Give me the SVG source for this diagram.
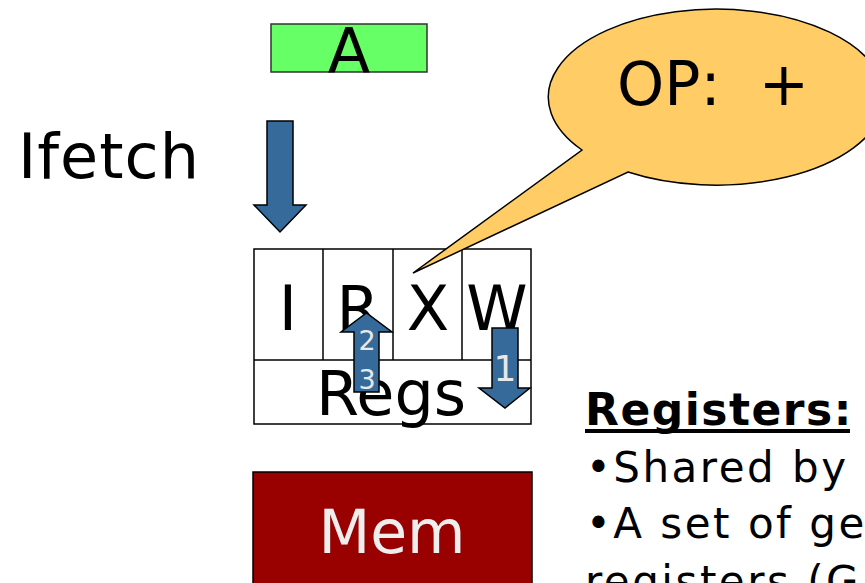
<svg xmlns="http://www.w3.org/2000/svg" width="865" height="583" viewBox="0 0 865 583">
  <style>
    text { font-family: "DejaVu Sans", Verdana, sans-serif; fill: #000; }
    .cell { fill: #fff; stroke: #000; stroke-width: 1.5; }
    .arrow { fill: #356a9a; stroke: #000; stroke-width: 1.5; }
    .num { fill: #e8e8e8; text-anchor: middle; }
    .big { font-size: 62px; text-anchor: middle; }
    .note { font-size: 42px; letter-spacing: 2.5px; }
  </style>

  <!-- instruction A -->
  <g id="instr-a">
    <rect x="271" y="24" width="156" height="48" fill="#66ff66" stroke="#333" stroke-width="1.5"/>
    <text class="big" x="349" y="73">A</text>
  </g>

  <!-- Ifetch label -->
  <g id="ifetch-label">
    <text x="18" y="178" font-size="62" letter-spacing="1">Ifetch</text>
  </g>

  <!-- pipeline stages -->
  <g id="pipeline">
    <rect class="cell" x="254" y="249" width="277" height="175"/>
    <line x1="254" y1="360" x2="531" y2="360" stroke="#000" stroke-width="1.5"/>
    <line x1="323" y1="249" x2="323" y2="360" stroke="#000" stroke-width="1.5"/>
    <line x1="393" y1="249" x2="393" y2="360" stroke="#000" stroke-width="1.5"/>
    <line x1="462" y1="249" x2="462" y2="360" stroke="#000" stroke-width="1.5"/>
    <text class="big" x="288" y="330" font-size="64">I</text>
    <text class="big" x="358" y="330" font-size="64">R</text>
    <text class="big" x="428" y="330" font-size="64">X</text>
    <text class="big" x="497" y="330" font-size="64">W</text>
    <text class="big" x="391" y="415" font-size="59">Regs</text>
  </g>

  <!-- speech bubble -->
  <g id="op-bubble">
    <path d="M582 150 A168 88 0 1 1 628 172 L413 273 Z" fill="#ffcc66" stroke="#000" stroke-width="1.5"/>
    <text x="617" y="105" font-size="60" xml:space="preserve">OP:  +</text>
  </g>

  <!-- memory -->
  <g id="mem">
    <rect x="253" y="472" width="279" height="130" fill="#990000" stroke="#000" stroke-width="1.5"/>
    <text x="392" y="553" font-size="60" text-anchor="middle" style="fill:#eeeeee">Mem</text>
  </g>

  <!-- connectors -->
  <g id="connectors">
    <path class="arrow" d="M267 121 H293 V205 H306 L280 232 L254 205 H267 Z"/>
    <path class="arrow" d="M354 392 V332 H341 L366.5 313 L392 332 H379 V392 Z"/>
    <text class="num" x="367" y="350" font-size="27">2</text>
    <text class="num" x="367" y="389" font-size="27">3</text>
    <path class="arrow" d="M492 328 H518 V388 H530 L505 408 L479 388 H492 Z"/>
    <text class="num" x="505" y="381" font-size="36">1</text>
  </g>

  <!-- notes -->
  <g id="notes">
    <text x="585" y="425" font-size="44" font-weight="bold" letter-spacing="1.5">Registers:</text>
    <rect x="585" y="429" width="265" height="4" fill="#000"/>
    <text class="note" x="586" y="482">•Shared by</text>
    <text class="note" x="586" y="538">•A set of ge</text>
    <text class="note" x="585" y="596">registers (G</text>
  </g>
</svg>
